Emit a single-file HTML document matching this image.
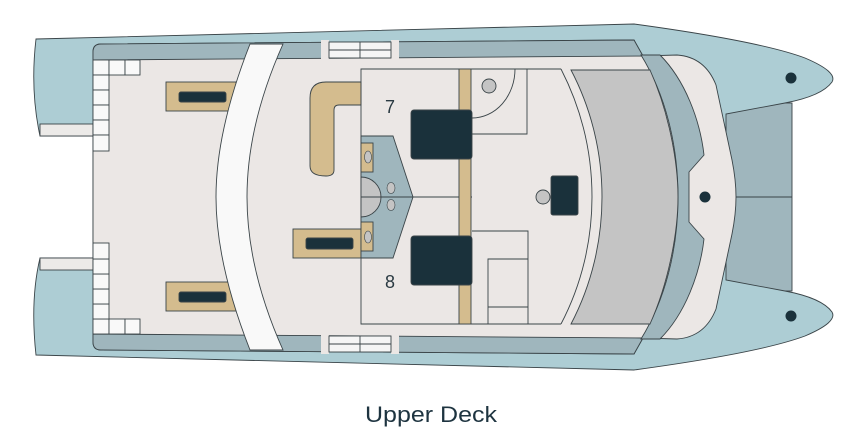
<!DOCTYPE html>
<html><head><meta charset="utf-8"><style>
html,body{margin:0;padding:0;background:#fff;}
svg{display:block;}
</style></head><body>
<svg width="854" height="433" viewBox="0 0 854 433" xmlns="http://www.w3.org/2000/svg">
<g stroke="#3a4448" stroke-width="0.9">
<!-- trampoline -->
<rect x="700" y="103" width="92" height="188" fill="#9fb6bd"/>
<line x1="700" y1="197" x2="792" y2="197"/>
<!-- hull -->
<path d="M36,39 L634,24 C700,33 770,45 805,58 Q838,72 832,82 Q822,96 785,103 L726,114 L726,280 L785,291 Q822,298 832,312 Q838,322 805,336 C770,349 700,361 634,370 L36,355 Q30,300 40,258 L93,258 L93,136 L40,136 Q30,90 36,39 Z" fill="#adcdd4"/>
<rect x="40" y="124" width="53" height="12" fill="#eceae8"/>
<rect x="40" y="258" width="53" height="12" fill="#eceae8"/>
<!-- deck -->
<path d="M93,52 Q93,44 101,44 L634,40 L643,56 L677,55 Q705,57 716,85 L732,160 Q736,180 736,197 Q736,214 732,234 L716,309 Q705,337 677,339 L643,338 L634,354 L101,350 Q93,350 93,342 Z" fill="#ebe7e5"/>
<!-- side bands -->
<path d="M101,44 L634,40 L643,56 L93,60 L93,52 Q93,44 101,44Z" fill="#9fb6bd"/>
<path d="M101,350 L634,354 L643,338 L93,334 L93,342 Q93,350 101,350Z" fill="#9fb6bd"/>
<!-- small boxes in band -->
<g fill="#f5f5f5">
<rect x="321" y="40" width="8" height="19" fill="#ebe7e5" stroke="none"/>
<rect x="391" y="40" width="8" height="19" fill="#ebe7e5" stroke="none"/>
<rect x="329" y="42" width="62" height="16"/>
<line x1="329" y1="50" x2="391" y2="50"/><line x1="360" y1="42" x2="360" y2="58"/>
<rect x="321" y="335" width="8" height="19" fill="#ebe7e5" stroke="none"/>
<rect x="391" y="335" width="8" height="19" fill="#ebe7e5" stroke="none"/>
<rect x="329" y="336" width="62" height="16"/>
<line x1="329" y1="344" x2="391" y2="344"/><line x1="360" y1="336" x2="360" y2="352"/>
</g>
<!-- white grid -->
<g fill="#f9f9f9">
<rect x="93" y="60" width="16" height="15"/><rect x="109" y="60" width="16" height="15"/><rect x="125" y="60" width="15" height="15"/>
<rect x="93" y="75" width="16" height="15"/><rect x="93" y="90" width="16" height="15"/><rect x="93" y="105" width="16" height="15"/><rect x="93" y="120" width="16" height="15"/><rect x="93" y="135" width="16" height="16"/>
<rect x="93" y="319" width="16" height="15"/><rect x="109" y="319" width="16" height="15"/><rect x="125" y="319" width="15" height="15"/>
<rect x="93" y="304" width="16" height="15"/><rect x="93" y="289" width="16" height="15"/><rect x="93" y="274" width="16" height="15"/><rect x="93" y="259" width="16" height="15"/><rect x="93" y="243" width="16" height="16"/>
</g>
<!-- loungers -->
<rect x="166" y="82" width="70" height="29" fill="#d4bc8e"/>
<rect x="179" y="92" width="47" height="10" rx="2" fill="#1a313b"/>
<rect x="166" y="282" width="70" height="29" fill="#d4bc8e"/>
<rect x="179" y="292" width="47" height="10" rx="2" fill="#1a313b"/>
<!-- white stripe -->
<path d="M250,44 L283,44 C258,100 247,150 247,197 C247,244 258,294 283,350 L250,350 C228,294 216,244 216,197 C216,150 228,100 250,44Z" fill="#f9f9f9"/>
<!-- L sofa -->
<path d="M361,82 L326,82 Q310,82 310,98 L310,166 Q310,176 326,176 Q334,176 334,170 L334,110 Q334,105 339,105 L361,105 Z" fill="#d4bc8e"/>
<rect x="293" y="229" width="68" height="29" fill="#d4bc8e"/>
<rect x="306" y="238" width="47" height="11" rx="2" fill="#1a313b"/>
<!-- fore grey band -->
<path d="M641,55 L660,55 C685,80 700,120 704,155 L689,172 L689,222 L704,239 C700,274 685,314 660,339 L641,339 C665,300 678,250 678,197 C678,144 665,94 641,55Z" fill="#9fb6bd"/>
<!-- grey panel -->
<path d="M571,70 L650,70 C668,110 678,160 678,197 C678,234 668,284 650,324 L571,324 C592,284 602,240 602,197 C602,154 592,110 571,70Z" fill="#c4c4c4"/>
<!-- cabin box -->
<path d="M561,69 L361,69 L361,324 L561,324" fill="none"/>
<path d="M561,69 C582,110 592,154 592,197 C592,240 582,284 561,324" fill="none"/>
<!-- center module -->
<path d="M361,136 L393,136 L413,197 L393,258 L361,258 Z" fill="#9fb6bd"/>
<path d="M361,177 A20,20 0 0 1 361,217 Z" fill="#c4c4c4"/>
<rect x="361" y="143" width="12" height="29" fill="#d4bc8e"/>
<rect x="361" y="222" width="12" height="29" fill="#d4bc8e"/>
<g fill="#c4c4c4" stroke-width="0.6">
<ellipse cx="368" cy="157" rx="3.5" ry="6"/><ellipse cx="368" cy="237" rx="3.5" ry="6"/>
<ellipse cx="391" cy="188" rx="4" ry="5.5"/><ellipse cx="391" cy="205" rx="4" ry="5.5"/>
</g>
<line x1="361" y1="197" x2="472" y2="197"/>
<!-- gold wall -->
<rect x="459" y="69" width="12" height="255" fill="#d4bc8e"/>
<!-- beds -->
<rect x="411" y="110" width="61" height="49" rx="3" fill="#1a313b"/>
<rect x="411" y="236" width="61" height="49" rx="3" fill="#1a313b"/>
<!-- bathroom 7 -->
<path d="M472,134 L527,134 L527,69" fill="none"/>
<path d="M515,69 A43,49 0 0 1 472,118" fill="none"/>
<circle cx="489" cy="86" r="7" fill="#c4c4c4"/>
<!-- bathroom 8 -->
<path d="M472,231 L528,231 L528,324" fill="none"/>
<path d="M488,324 L488,259 L528,259 M488,307 L528,307" fill="none"/>
<!-- desk -->
<rect x="551" y="176" width="27" height="39" rx="2" fill="#1a313b"/>
<circle cx="543" cy="197" r="7" fill="#c4c4c4"/>
</g>
<g fill="#1a313b">
<circle cx="791" cy="78" r="5.5"/><circle cx="705" cy="197" r="5.5"/><circle cx="791" cy="316" r="5.5"/>
</g>
<g font-family="Liberation Sans, sans-serif" fill="#2a3a42">
<text x="390" y="113" font-size="18" text-anchor="middle">7</text>
<text x="390" y="288" font-size="18" text-anchor="middle">8</text>
<text x="365" y="422" font-size="22" textLength="132" lengthAdjust="spacingAndGlyphs" fill="#1e3440">Upper Deck</text>
</g>
</svg>
</body></html>
